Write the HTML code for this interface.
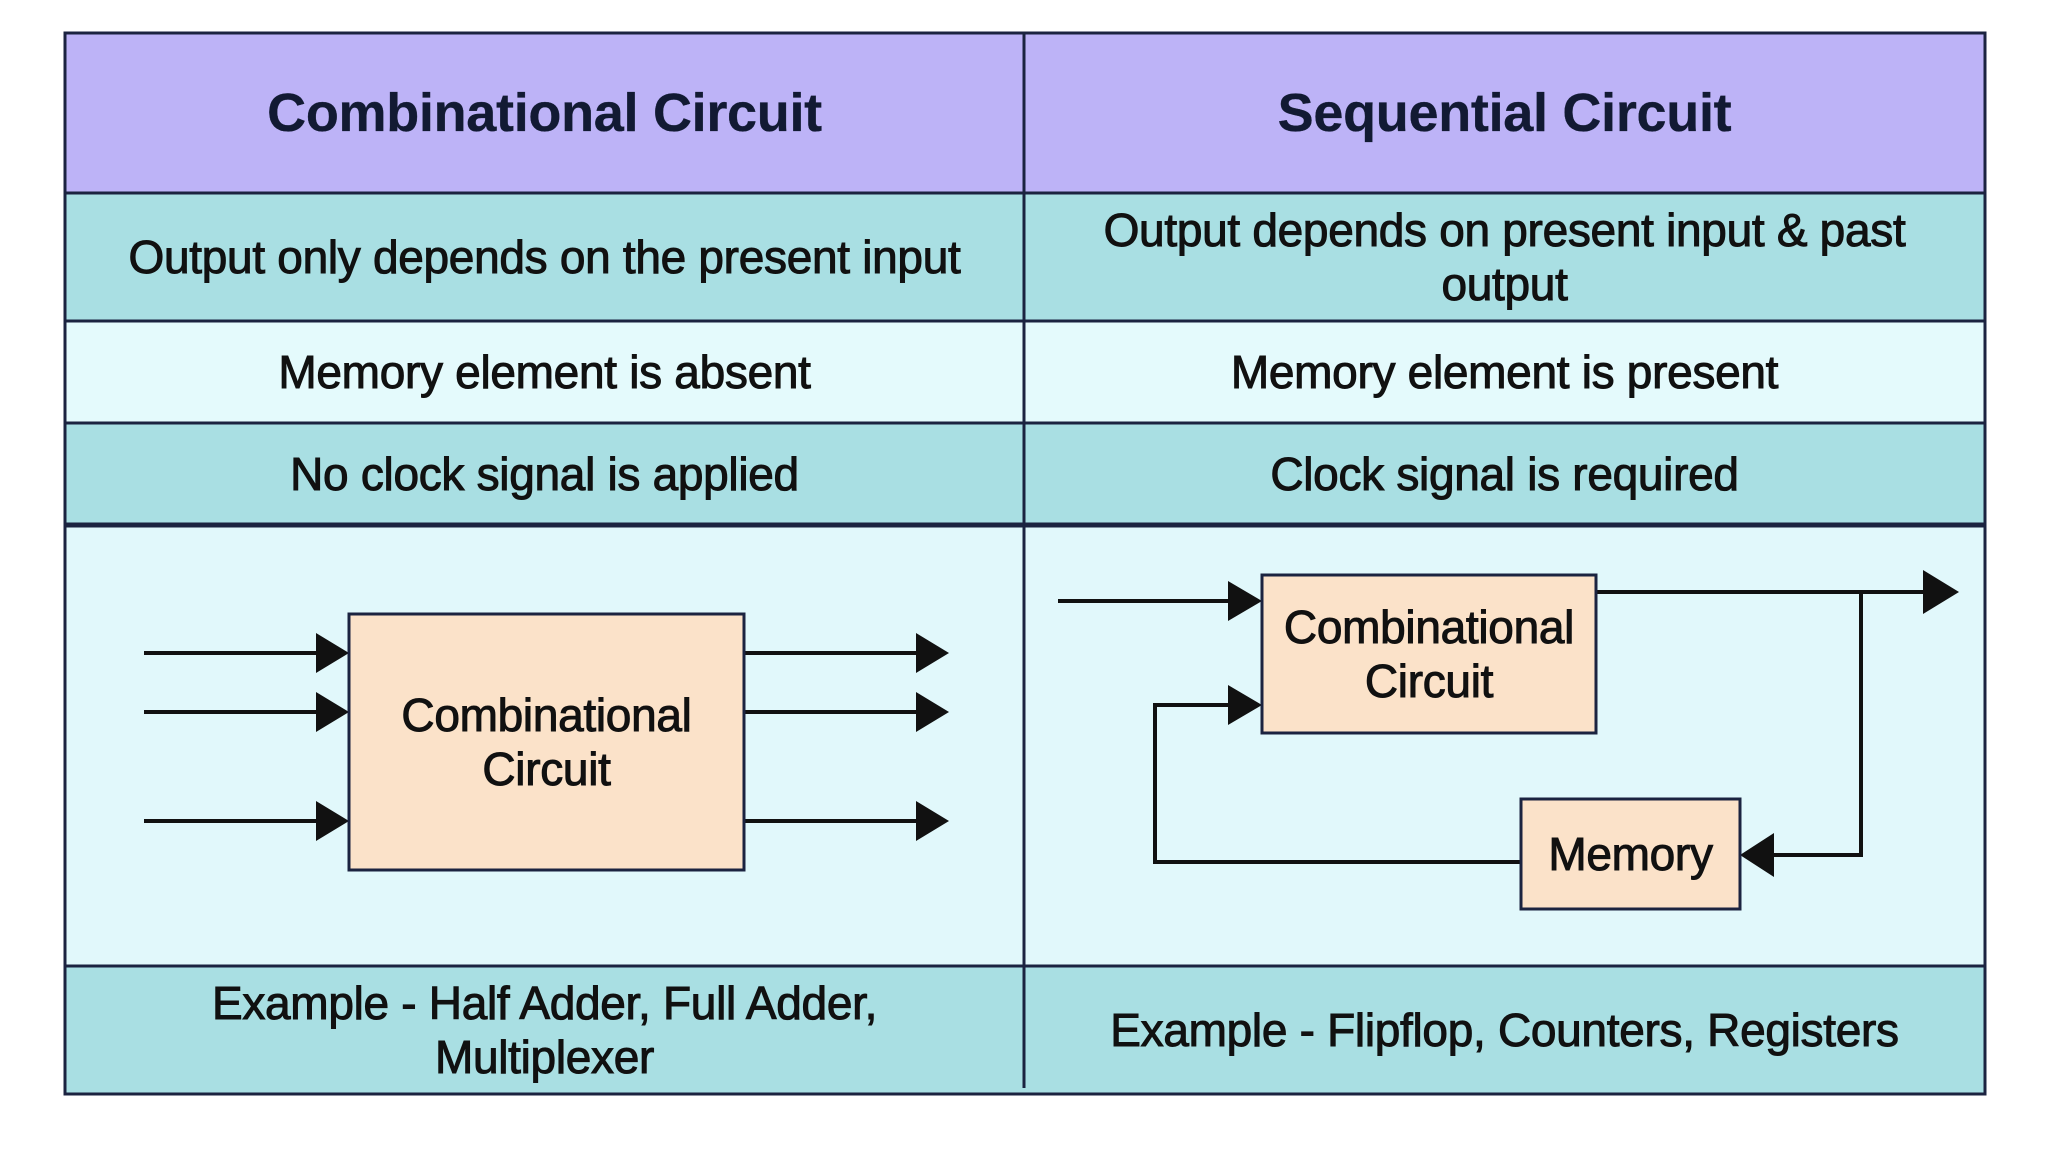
<!DOCTYPE html>
<html><head><meta charset="utf-8"><style>
body{margin:0;width:2048px;height:1152px;background:#fff;position:relative;overflow:hidden;font-family:"Liberation Sans",sans-serif;color:#111;}
.c{position:absolute;display:flex;align-items:center;justify-content:center;text-align:center;font-size:46px;line-height:54px;-webkit-text-stroke:1px #111;box-sizing:border-box;letter-spacing:-0.3px}
.h{font-weight:bold;font-size:54px;-webkit-text-stroke:0.3px #121a33;color:#121a33}
.b{font-size:46px;line-height:54px}
</style></head><body>
<div style="position:absolute;left:65px;top:33px;width:1920px;height:160px;background:#bdb3f7"></div>
<div style="position:absolute;left:65px;top:193px;width:1920px;height:128px;background:#a9dfe3"></div>
<div style="position:absolute;left:65px;top:321px;width:1920px;height:102px;background:#e4fafc"></div>
<div style="position:absolute;left:65px;top:423px;width:1920px;height:102px;background:#a9dfe3"></div>
<div style="position:absolute;left:65px;top:525px;width:1920px;height:441px;background:#e1f8fb"></div>
<div style="position:absolute;left:65px;top:966px;width:1920px;height:128px;background:#a9dfe3"></div>
<svg width="2048" height="1152" style="position:absolute;left:0;top:0">
<g stroke="#1b2340" fill="none">
<rect x="65" y="33" width="1920" height="1061" stroke-width="3"/>
<line x1="1024" y1="33" x2="1024" y2="1088" stroke-width="3"/>
<line x1="65" y1="193" x2="1985" y2="193" stroke-width="3"/>
<line x1="65" y1="321" x2="1985" y2="321" stroke-width="3"/>
<line x1="65" y1="423" x2="1985" y2="423" stroke-width="3"/>
<line x1="65" y1="525" x2="1985" y2="525" stroke-width="5"/>
<line x1="65" y1="966" x2="1985" y2="966" stroke-width="3"/>
</g>
<g stroke="#111" stroke-width="4" fill="none">
<line x1="144" y1="653" x2="320" y2="653"/><line x1="144" y1="712" x2="320" y2="712"/><line x1="144" y1="821" x2="320" y2="821"/>
<line x1="744" y1="653" x2="920" y2="653"/><line x1="744" y1="712" x2="920" y2="712"/><line x1="744" y1="821" x2="920" y2="821"/>
<line x1="1058" y1="601" x2="1232" y2="601"/>
<polyline points="1521,862 1155,862 1155,705 1232,705"/>
<line x1="1596" y1="592" x2="1930" y2="592"/>
<polyline points="1861,592 1861,855 1770,855"/>
</g>
<g fill="#111">
<polygon points="316,633 349,653 316,673"/><polygon points="316,692 349,712 316,732"/><polygon points="316,801 349,821 316,841"/>
<polygon points="916,633 949,653 916,673"/><polygon points="916,692 949,712 916,732"/><polygon points="916,801 949,821 916,841"/>
<polygon points="1228,581 1262,601 1228,621"/><polygon points="1228,685 1262,705 1228,725"/>
<polygon points="1923,570 1959,592 1923,614"/><polygon points="1774,833 1740,855 1774,877"/>
</g>
<g stroke="#1b2340" stroke-width="3" fill="#fbe2c9">
<rect x="349" y="614" width="395" height="256"/>
<rect x="1262" y="575" width="334" height="158"/>
<rect x="1521" y="799" width="219" height="110"/>
</g>
</svg>
<div class="c h" style="left:65px;top:33px;width:959px;height:160px">Combinational Circuit</div>
<div class="c h" style="left:1024px;top:33px;width:961px;height:160px">Sequential Circuit</div>
<div class="c" style="left:65px;top:193px;width:959px;height:128px">Output only depends on the present input</div>
<div class="c" style="left:1024px;top:193px;width:961px;height:128px">Output depends on present input &amp; past<br>output</div>
<div class="c" style="left:65px;top:321px;width:959px;height:102px">Memory element is absent</div>
<div class="c" style="left:1024px;top:321px;width:961px;height:102px">Memory element is present</div>
<div class="c" style="left:65px;top:423px;width:959px;height:102px">No clock signal is applied</div>
<div class="c" style="left:1024px;top:423px;width:961px;height:102px">Clock signal is required</div>
<div class="c b" style="left:349px;top:614px;width:395px;height:256px">Combinational<br>Circuit</div>
<div class="c b" style="left:1262px;top:575px;width:334px;height:158px">Combinational<br>Circuit</div>
<div class="c b" style="left:1521px;top:799px;width:219px;height:110px">Memory</div>
<div class="c" style="left:65px;top:966px;width:959px;height:128px">Example - Half Adder, Full Adder,<br>Multiplexer</div>
<div class="c" style="left:1024px;top:966px;width:961px;height:128px">Example - Flipflop, Counters, Registers</div>
</body></html>
